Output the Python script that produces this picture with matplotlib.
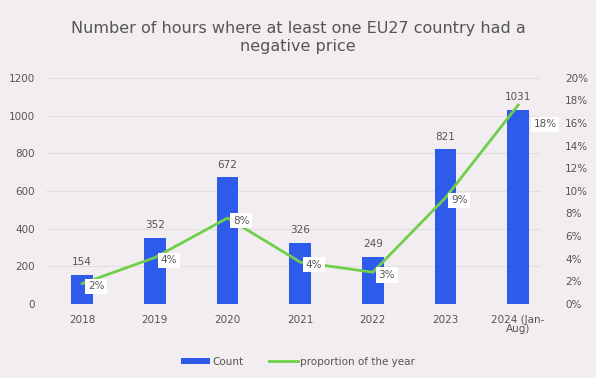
import matplotlib.pyplot as plt
import numpy as np

# data
years = ['2018', '2019', '2020', '2021', '2022', '2023', '2024 (Jan-\nAug)']
counts = [154, 352, 672, 326, 249, 821, 1031]
proportion = [0.018, 0.041, 0.076, 0.037, 0.028, 0.094, 0.176]
prop_labels = ['2%', '4%', '8%', '4%', '3%', '9%', '18%']

bar_color = '#2f5bea'
line_color = '#6fcf4a'
text_color = '#555555'

fig = plt.figure(figsize=(5.96, 3.78), dpi=100)
fig.patch.set_facecolor('#f2edf1')
ax = fig.add_axes([0.077, 0.196, 0.829, 0.598])
ax.set_facecolor('none')

x = np.arange(len(years))
ax.bar(x, counts, width=0.3, color=bar_color, zorder=2, label='Count')
for xi, c in zip(x, counts):
    ax.text(xi, c + 40, str(c), ha='center', va='bottom', fontsize=7.5, color=text_color)

ax.set_ylim(0, 1200)
ax.set_yticks(range(0, 1201, 200))
ax.set_xlim(-0.5, 6.3)
ax.set_xticks(x)
ax.set_xticklabels(years, fontsize=7.5, color=text_color, linespacing=0.9)
ax.tick_params(axis='y', labelsize=7.5, labelcolor=text_color, length=0, pad=8)
ax.tick_params(axis='x', length=0, pad=8)
ax.grid(axis='y', color='#e2dde2', linewidth=0.8, zorder=0)
for s in ax.spines.values():
    s.set_visible(False)

ax2 = ax.twinx()
ax2.plot(x, proportion, color=line_color, linewidth=2, zorder=3, label='proportion of the year')
ax2.set_ylim(0, 0.20)
ax2.set_yticks(np.arange(0, 0.201, 0.02))
ax2.set_yticklabels(['%d%%' % round(v * 100) for v in np.arange(0, 0.201, 0.02)])
ax2.tick_params(axis='y', labelsize=7.5, labelcolor=text_color, length=0, pad=18)
for s in ax2.spines.values():
    s.set_visible(False)
offsets = [(4, -2)] * 6 + [(11, -14)]
for xi, p, lab, off in zip(x, proportion, prop_labels, offsets):
    ax2.annotate(lab, (xi, p), xytext=off, textcoords='offset points',
                 ha='left', va='center', fontsize=7.5, color=text_color, zorder=5,
                 bbox=dict(boxstyle='square,pad=0.25', fc='white', ec='none'))

fig.suptitle('Number of hours where at least one EU27 country had a\nnegative price',
             y=0.945, fontsize=11.5, color='#555555', linespacing=1.3)

h1, l1 = ax.get_legend_handles_labels()
h2, l2 = ax2.get_legend_handles_labels()
fig.legend(h1 + h2, l1 + l2, loc='center', bbox_to_anchor=(0.5, 0.043), ncol=2,
           frameon=False, fontsize=7.5, labelcolor=text_color, handlelength=2.8,
           handleheight=0.5, columnspacing=2.5, handletextpad=0.2)

fig.savefig('out.png', dpi=100, facecolor=fig.get_facecolor())
